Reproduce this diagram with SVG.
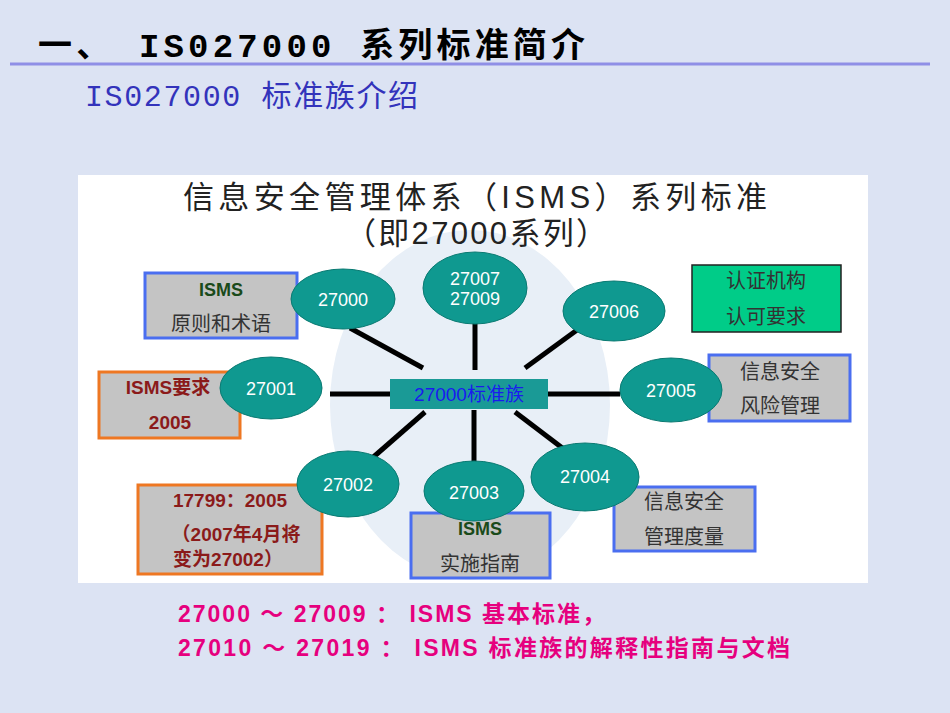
<svg xmlns="http://www.w3.org/2000/svg" width="950" height="713" viewBox="0 0 950 713">
<style>
text{font-family:"Liberation Sans","Noto Sans CJK SC",sans-serif}
.mono{font-family:"Liberation Mono","Noto Sans CJK SC",monospace}
.el{fill:#0f9990;stroke:#0a7a72;stroke-width:1}
.et{fill:#fff;font-size:18px;text-anchor:middle}
.bb{fill:#c4c4c4;stroke:#4a6ef0;stroke-width:3}
.ob{fill:#c4c4c4;stroke:#ee7722;stroke-width:3}
.ln{stroke:#000;stroke-width:5}
.gt{fill:#333;font-size:20px;text-anchor:middle}
.rt{fill:#8b1a1a;font-size:19px;font-weight:bold;text-anchor:middle}
.pk{fill:#e6007e;font-size:23px;font-weight:bold}
</style>
<rect width="950" height="713" fill="#dce3f3"/>
<text class="mono" x="38" y="57" font-size="34" font-weight="bold" textLength="547" lengthAdjust="spacing">一、  IS027000 系列标准简介</text>
<line x1="10" y1="64" x2="930" y2="64" stroke="#8f8fe6" stroke-width="3"/>
<text class="mono" x="85" y="106" font-size="30" fill="#3333bb" textLength="333" lengthAdjust="spacing">IS027000 标准族介绍</text>
<rect x="78" y="175" width="790" height="408" fill="#fff"/>
<ellipse cx="470" cy="405" rx="140" ry="175" fill="#e8eff7"/>
<text x="183" y="208" font-size="31" fill="#222" textLength="584" lengthAdjust="spacing">信息安全管理体系（ISMS）系列标准</text>
<text x="345" y="244" font-size="31" fill="#222" textLength="262" lengthAdjust="spacing">（即27000系列）</text>
<g id="connectors">
<line class="ln" x1="350" y1="328" x2="423" y2="368"/>
<line class="ln" x1="475" y1="320" x2="475" y2="370"/>
<line class="ln" x1="577" y1="330" x2="525" y2="368"/>
<line class="ln" x1="330" y1="394" x2="390" y2="394"/>
<line class="ln" x1="548" y1="394" x2="620" y2="394"/>
<line class="ln" x1="370" y1="460" x2="425" y2="412"/>
<line class="ln" x1="474" y1="464" x2="474" y2="410"/>
<line class="ln" x1="565" y1="450" x2="515" y2="412"/>
</g>
<g id="b-isms"><rect class="bb" x="145" y="273" width="152" height="65"/><text x="221" y="296" font-size="18" font-weight="bold" fill="#1a4a1a" text-anchor="middle">ISMS</text><text class="gt" x="221" y="331">原则和术语</text></g>
<g id="b-req"><rect class="ob" x="99" y="372" width="141" height="66"/><text class="rt" x="168" y="394">ISMS要求</text><text class="rt" x="170" y="429">2005</text></g>
<g id="b-17799"><rect class="ob" x="138" y="485" width="184" height="89"/><text class="rt" x="230" y="507">17799：2005</text><text class="rt" x="236" y="541">（2007年4月将</text><text class="rt" x="228" y="566">变为27002）</text></g>
<g id="b-impl"><rect class="bb" x="411" y="513" width="139" height="65"/><text x="480" y="535" font-size="18" font-weight="bold" fill="#1a4a1a" text-anchor="middle">ISMS</text><text class="gt" x="480" y="571">实施指南</text></g>
<g id="b-meas"><rect class="bb" x="614" y="487" width="141" height="64"/><text class="gt" x="684" y="509">信息安全</text><text class="gt" x="684" y="544">管理度量</text></g>
<g id="b-risk"><rect class="bb" x="709" y="355" width="141" height="66"/><text class="gt" x="780" y="379">信息安全</text><text class="gt" x="780" y="413">风险管理</text></g>
<g id="b-cert"><rect x="692" y="265" width="149" height="67" fill="#00cc88" stroke="#222" stroke-width="1.5"/><text class="gt" x="766" y="288">认证机构</text><text class="gt" x="766" y="324">认可要求</text></g>
<g id="center"><rect x="390" y="379" width="158" height="30" fill="#1a9a96"/><text x="469" y="401" font-size="19" fill="#1a1aee" text-anchor="middle">27000标准族</text></g>
<g id="e27000"><ellipse class="el" cx="343" cy="299" rx="52" ry="30"/><text class="et" x="343" y="306">27000</text></g>
<g id="e27007"><ellipse class="el" cx="475" cy="288" rx="52" ry="36"/><text class="et" x="475" y="285">27007</text><text class="et" x="475" y="305">27009</text></g>
<g id="e27006"><ellipse class="el" cx="614" cy="311" rx="51" ry="30"/><text class="et" x="614" y="318">27006</text></g>
<g id="e27001"><ellipse class="el" cx="271" cy="388" rx="51" ry="31"/><text class="et" x="271" y="395">27001</text></g>
<g id="e27005"><ellipse class="el" cx="671" cy="390" rx="51" ry="32"/><text class="et" x="671" y="397">27005</text></g>
<g id="e27002"><ellipse class="el" cx="348" cy="484" rx="51" ry="33"/><text class="et" x="348" y="491">27002</text></g>
<g id="e27003"><ellipse class="el" cx="474" cy="491" rx="50" ry="30"/><text class="et" x="474" y="499">27003</text></g>
<g id="e27004"><ellipse class="el" cx="585" cy="477" rx="54" ry="34"/><text class="et" x="585" y="483">27004</text></g>
<text class="pk" x="178" y="622" textLength="427" lengthAdjust="spacing">27000 ～ 27009 ： ISMS 基本标准，</text>
<text class="pk" x="178" y="656" textLength="612" lengthAdjust="spacing">27010 ～ 27019 ： ISMS 标准族的解释性指南与文档</text>
</svg>
